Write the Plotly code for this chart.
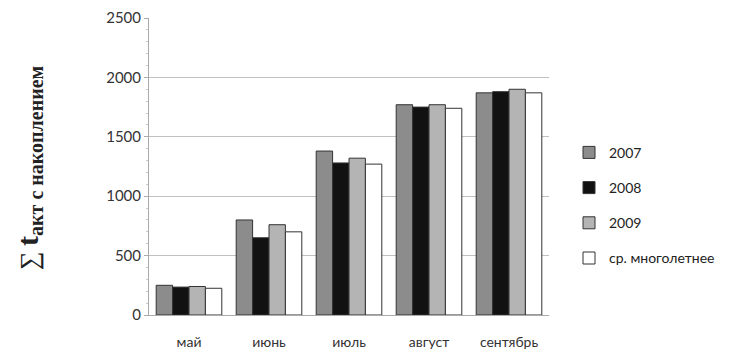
import plotly.graph_objects as go

months = ["май", "июнь", "июль", "август", "сентябрь"]
series_names = ["2007", "2008", "2009", "ср. многолетнее"]
v2007 = [250, 800, 1380, 1770, 1870]
v2008 = [235, 650, 1280, 1750, 1880]
v2009 = [240, 760, 1320, 1770, 1900]
vmean = [225, 700, 1270, 1740, 1870]
colors = ["#8c8c8c", "#111111", "#b4b4b4", "#ffffff"]
y_ticks = [0, 500, 1000, 1500, 2000, 2500]

fig = go.Figure()
for i, (name, vals) in enumerate(zip(series_names, [v2007, v2008, v2009, vmean])):
    fig.add_trace(go.Bar(
        x=months, y=vals, name=name, legendgroup=name,
        marker=dict(color=colors[i], line=dict(color="#333333", width=1)),
    ))

title_text = ("<span style='font-size:26px'>∑</span> "
              "<b><span style='font-size:30px'>t</span>"
              "<sub><span style='font-size:20px'>акт с накоплением</span></sub></b>")

fig.update_layout(
    width=739, height=345,
    margin=dict(l=141, r=198, t=10, b=38, autoexpand=False),
    paper_bgcolor="white", plot_bgcolor="white",
    barmode="group", bargap=0.18, bargroupgap=0.0,
    font=dict(family="Lato, Open Sans, sans-serif", size=13, color="#333333"),
    legend=dict(x=1.05, y=0.60, xanchor="left", yanchor="top",
                font=dict(size=14, color="#222222"), tracegroupgap=14,
                bgcolor="rgba(0,0,0,0)"),
    annotations=[dict(
        text=title_text,
        x=-0.30, y=0.495, xref="paper", yref="paper",
        xanchor="center", yanchor="middle",
        textangle=-90, showarrow=False,
        font=dict(family="Liberation Serif, serif", size=22, color="#222222"),
    )],
)
fig.update_yaxes(
    range=[0, 2500], tickvals=y_ticks, ticks="outside", ticklen=4,
    tickcolor="#aaaaaa", showline=True, linecolor="#aaaaaa",
    gridcolor="#c0c0c0", gridwidth=1, zeroline=False, automargin=False,
    ticklabeloverflow="allow",
    minor=dict(dtick=100, ticks="outside", ticklen=2, tickcolor="#cccccc", showgrid=False),
    tickfont=dict(size=15, color="#333333"),
)
fig.update_xaxes(
    showline=True, linecolor="#aaaaaa", ticks="", automargin=False,
    ticklabelstandoff=14, ticklabeloverflow="allow",
    tickfont=dict(size=14, color="#333333"),
)

fig.write_html("out.html")
